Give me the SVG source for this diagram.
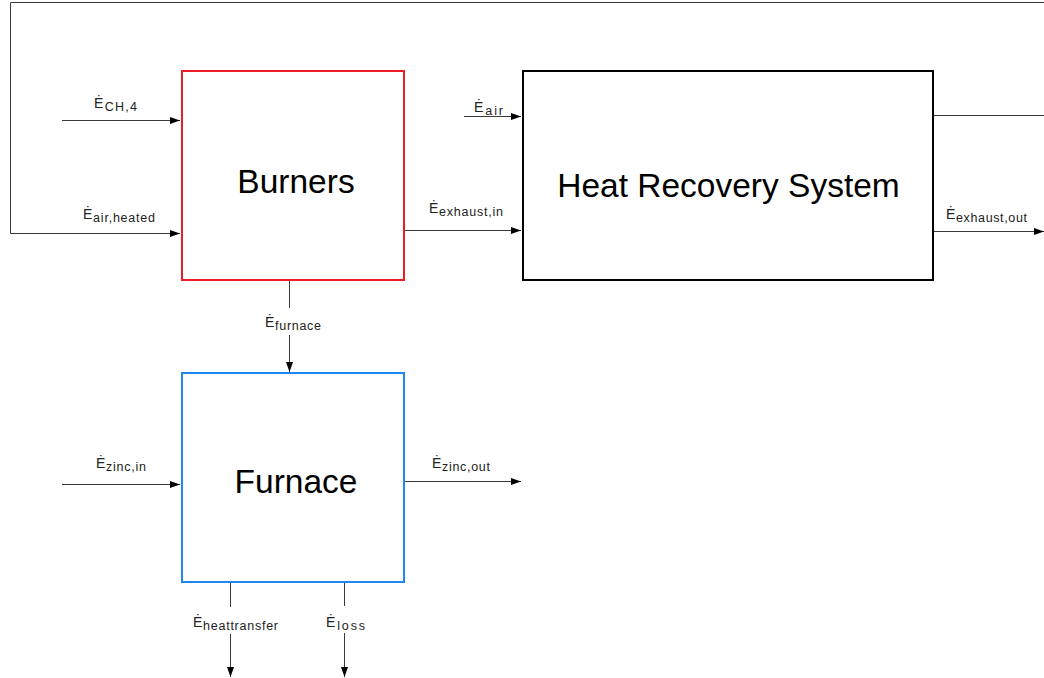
<svg xmlns="http://www.w3.org/2000/svg" width="1044" height="678" viewBox="0 0 1044 678">
<style>
.bg{fill:#ffffff}
.box{fill:#ffffff;stroke-width:2}
.title{font-family:"Liberation Sans",Arial,sans-serif;font-size:33.5px;fill:#000;text-anchor:middle}
.lbl{font-family:"Liberation Sans",Arial,sans-serif;font-size:14px;fill:#222}
.sub{font-size:12.5px}
.wire{fill:none;stroke:#3a3a3a;stroke-width:1}
</style>
<defs>
<marker id="arr" markerUnits="userSpaceOnUse" markerWidth="10" markerHeight="8" refX="10" refY="3.5" orient="auto">
<path d="M0,0 L10,3.5 L0,7 z" fill="#000"/>
</marker>
</defs>
<rect class="bg" x="0" y="0" width="1044" height="678"/>
<g id="connectors">
<path class="wire" d="M934,115.5 H1060 V2.5 H10.5 V233.5 H180" marker-end="url(#arr)"/>
<path class="wire" d="M62,120.5 H180" marker-end="url(#arr)"/>
<path class="wire" d="M464,116.5 H521" marker-end="url(#arr)"/>
<path class="wire" d="M405,230.5 H521" marker-end="url(#arr)"/>
<path class="wire" d="M934,231.5 H1044" marker-end="url(#arr)"/>
<path class="wire" d="M289.5,281 V308"/>
<path class="wire" d="M289.5,335 V372" marker-end="url(#arr)"/>
<path class="wire" d="M62,484.5 H180" marker-end="url(#arr)"/>
<path class="wire" d="M405,481.5 H521" marker-end="url(#arr)"/>
<path class="wire" d="M230.5,583 V607"/>
<path class="wire" d="M230.5,634 V677" marker-end="url(#arr)"/>
<path class="wire" d="M344.5,583 V606"/>
<path class="wire" d="M344.5,633 V677" marker-end="url(#arr)"/>
</g>
<g id="labels">
<text class="lbl" x="94" y="108" textLength="43" lengthAdjust="spacing">Ė<tspan class="sub" dy="3">CH,4</tspan></text>
<text class="lbl" x="83" y="219" textLength="72" lengthAdjust="spacing">Ė<tspan class="sub" dy="3">air,heated</tspan></text>
<text class="lbl" x="474" y="112" textLength="29" lengthAdjust="spacing">Ė<tspan class="sub" dy="3">air</tspan></text>
<text class="lbl" x="429" y="213" textLength="74" lengthAdjust="spacing">Ė<tspan class="sub" dy="3">exhaust,in</tspan></text>
<text class="lbl" x="946" y="218.5" textLength="81" lengthAdjust="spacing">Ė<tspan class="sub" dy="3">exhaust,out</tspan></text>
<text class="lbl" x="265" y="327" textLength="56" lengthAdjust="spacing">Ė<tspan class="sub" dy="3">furnace</tspan></text>
<text class="lbl" x="96" y="468" textLength="50" lengthAdjust="spacing">Ė<tspan class="sub" dy="3">zinc,in</tspan></text>
<text class="lbl" x="432" y="468" textLength="58" lengthAdjust="spacing">Ė<tspan class="sub" dy="3">zinc,out</tspan></text>
<text class="lbl" x="193" y="627" textLength="85" lengthAdjust="spacing">Ė<tspan class="sub" dy="3">heattransfer</tspan></text>
<text class="lbl" x="326" y="626.5" textLength="39" lengthAdjust="spacing">Ė<tspan class="sub" dy="3">loss</tspan></text>
</g>
<g id="burners">
<rect class="box" x="182" y="71" width="222" height="209" stroke="#ee1c24"/>
<text class="title" x="296" y="192.5">Burners</text>
</g>
<g id="heat-recovery-system">
<rect class="box" x="523" y="71" width="410" height="209" stroke="#000000"/>
<text class="title" x="728.5" y="197">Heat Recovery System</text>
</g>
<g id="furnace">
<rect class="box" x="182" y="373" width="222" height="209" stroke="#1e88f0"/>
<text class="title" x="296" y="493">Furnace</text>
</g>
</svg>
